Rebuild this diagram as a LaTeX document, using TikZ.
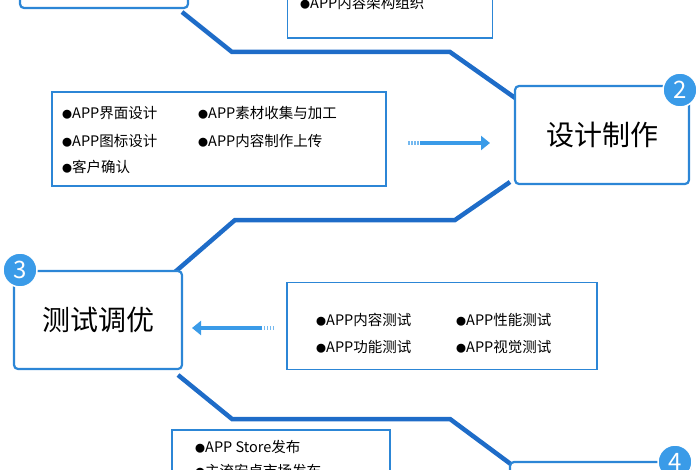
\documentclass[tikz,border=0pt]{standalone}
\usepackage{fontspec}
\setmainfont{Noto Sans CJK SC}
\usetikzlibrary{arrows.meta}
\definecolor{bord}{HTML}{2C86D6}
\definecolor{conn}{HTML}{1E6CC8}
\definecolor{circ}{HTML}{3A9BE8}
\newcommand{\bul}{{\fontsize{10}{10}\selectfont ●}}
\begin{document}
\begin{tikzpicture}[x=1pt,y=-1pt,
  stepbox/.style={draw=bord,line width=2.2pt,rounded corners=4pt,fill=white},
  infobox/.style={draw=bord,line width=1.8pt,fill=white},
  conline/.style={draw=conn,line width=4.5pt},
  num/.style={circle,fill=circ,draw=white,line width=1.5pt,minimum size=34pt,inner sep=0pt,text=white,font=\fontsize{24}{24}\selectfont},
  big/.style={font=\fontsize{28}{30}\selectfont},
  itm/.style={anchor=west,font=\fontsize{14.5}{16}\selectfont,inner sep=0pt}]
\useasboundingbox (0,0) rectangle (700,470);
\clip (0,0) rectangle (700,470);
% connectors
\coordinate (c1a) at (182,12);
\coordinate (c1b) at (232,52);
\coordinate (c1c) at (450,52);
\coordinate (c1d) at (518,100);
\draw[conline] (c1a) -- (c1b) -- (c1c) -- (c1d);
\coordinate (c2a) at (510,182);
\coordinate (c2b) at (455,220);
\coordinate (c2c) at (235,220);
\coordinate (c2d) at (175,272);
\draw[conline] (c2a) -- (c2b) -- (c2c) -- (c2d);
\coordinate (c3a) at (178,375);
\coordinate (c3b) at (232,419);
\coordinate (c3c) at (450,419);
\coordinate (c3d) at (512,465);
\draw[conline] (c3a) -- (c3b) -- (c3c) -- (c3d);
% step boxes
\node[stepbox,minimum width=168pt,minimum height=70pt] (s1) at (104,-27) {};
\node[stepbox,minimum width=174pt,minimum height=98pt,big] (s2) at (602,135) {设计制作};
\node[num] (n2) at (680,90) {2};
\node[stepbox,minimum width=168pt,minimum height=98pt,big] (s3) at (98,320) {测试调优};
\node[num] (n3) at (20,270) {3};
\node[stepbox,minimum width=180pt,minimum height=60pt] (s4) at (600,492) {};
\node[num] (n4) at (675,462) {4};
% info boxes
\node[infobox,minimum width=205pt,minimum height=80pt] (i1) at (390,-2) {};
\node[itm] (t1) at (300,3) {\bul APP内容架构组织};
\node[infobox,minimum width=334pt,minimum height=94pt] (i2) at (219,139) {};
\node[itm] (t21) at (62,113) {\bul APP界面设计};
\node[itm] (t22) at (198,113) {\bul APP素材收集与加工};
\node[itm] (t23) at (62,141) {\bul APP图标设计};
\node[itm] (t24) at (198,141) {\bul APP内容制作上传};
\node[itm] (t25) at (62,167) {\bul 客户确认};
\node[infobox,minimum width=310pt,minimum height=87pt] (i3) at (442,326) {};
\node[itm] (t31) at (316,320) {\bul APP内容测试};
\node[itm] (t32) at (456,320) {\bul APP性能测试};
\node[itm] (t33) at (316,347) {\bul APP功能测试};
\node[itm] (t34) at (456,347) {\bul APP视觉测试};
\node[infobox,minimum width=218pt,minimum height=60pt] (i4) at (281,460) {};
\node[itm] (t41) at (195,447) {\bul APP Store发布};
\node[itm] (t42) at (195,471) {\bul 主流安卓市场发布};
% arrows
\coordinate (a2s) at (420,143);
\coordinate (a2e) at (490,143);
\draw[circ!70,line width=4pt,dash pattern=on 1.5pt off 1.5pt] (408,143) -- (a2s);
\draw[circ,line width=4pt,-{Triangle[length=9pt,width=14pt]}] (a2s) -- (a2e);
\coordinate (a3s) at (262,328);
\coordinate (a3e) at (192,328);
\draw[circ!70,line width=4pt,dash pattern=on 1.5pt off 1.5pt] (274,328) -- (a3s);
\draw[circ,line width=4pt,-{Triangle[length=9pt,width=14pt]}] (a3s) -- (a3e);
\end{tikzpicture}
\end{document}
